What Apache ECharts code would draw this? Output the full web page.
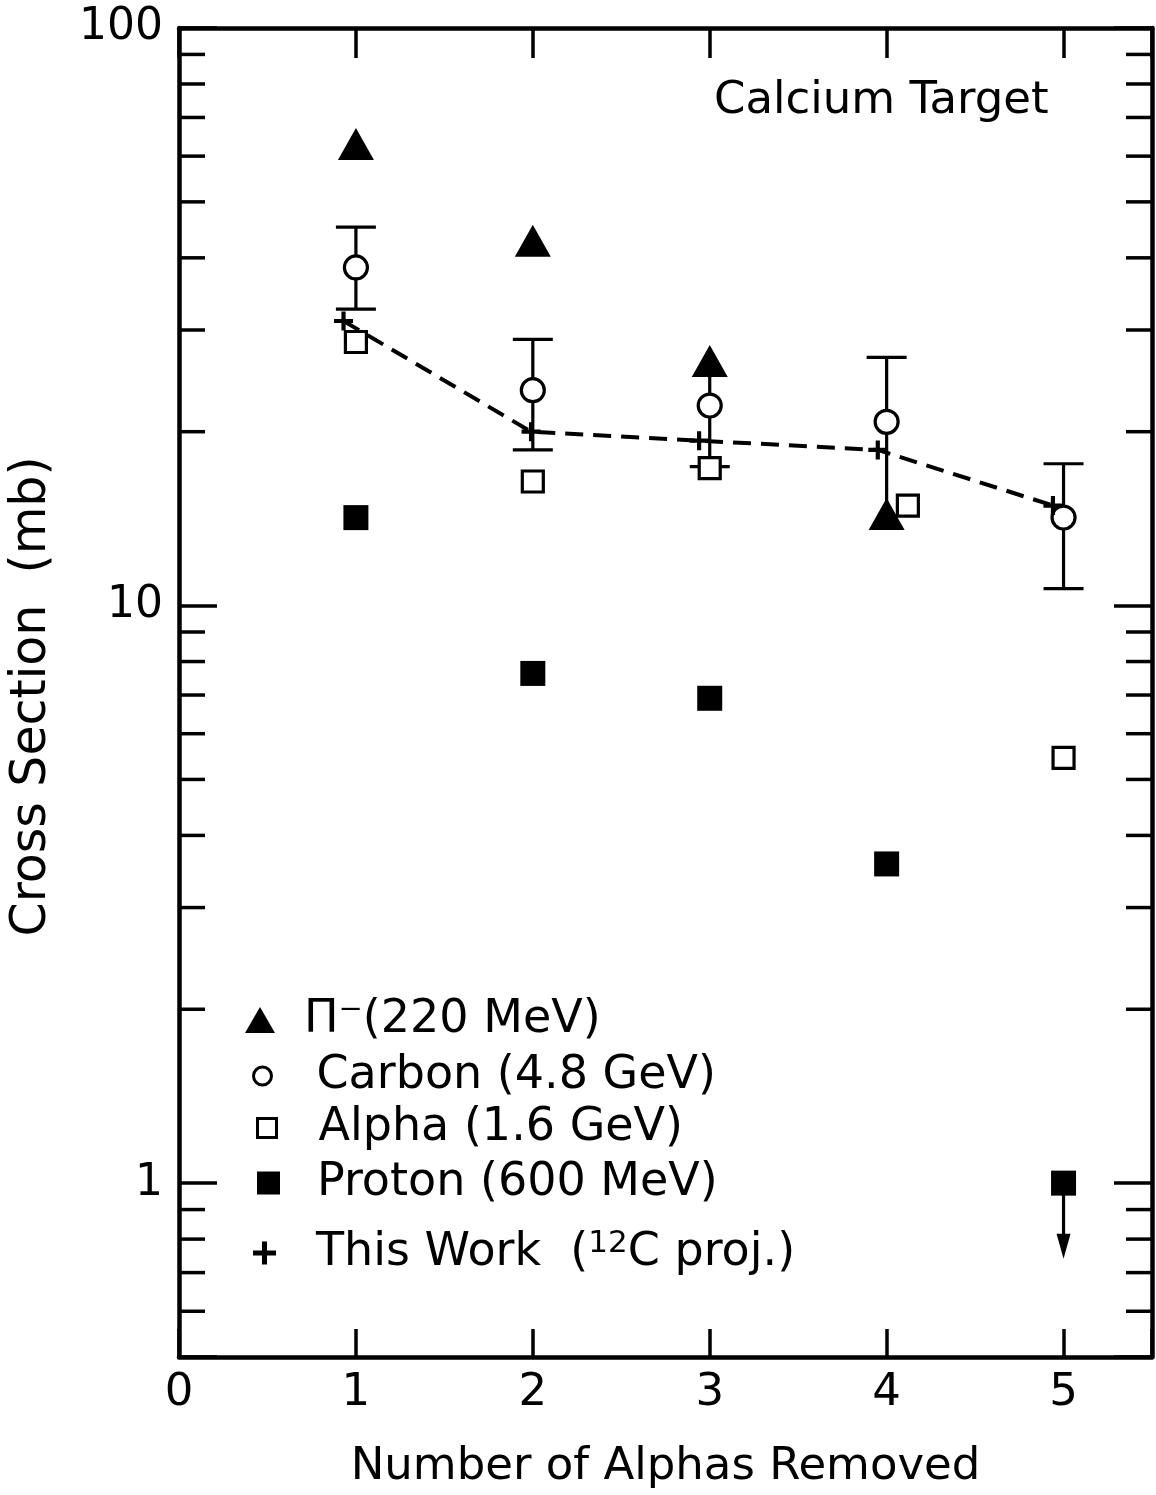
<!DOCTYPE html>
<html>
<head>
<meta charset="utf-8">
<script src="https://cdn.jsdelivr.net/npm/echarts@6/dist/echarts.min.js"></script>
<style>
html,body{margin:0;padding:0;background:#fff;}
#chart{width:1156px;height:1495px;}
</style>
</head>
<body>
<div id="chart"></div>
<script>
// ---- data ----
const xTickLabels = ['0', '1', '2', '3', '4', '5'];
const yTickLabels = ['1', '10', '100'];
const yMinorTicks = [0.6, 0.7, 0.8, 0.9, 2, 3, 4, 5, 6, 7, 8, 9, 20, 30, 40, 50, 60, 70, 80, 90];

const pionName = 'Π⁻(220 MeV)';
const pionX = [1, 2, 3, 4];
const pionY = [63, 42.8, 26.5, 14.4];

const carbonName = 'Carbon (4.8 GeV)';
const carbonX = [1, 2, 3, 4, 5];
const carbonY = [38.5, 23.6, 22.2, 20.8, 14.2];
const carbonLow = [32.6, 18.6, 17.4, 14.5, 10.7];
const carbonHigh = [45.2, 28.9, 27.5, 26.9, 17.6];
const carbonLowCap = [1, 1, 1, 0, 1];
const carbonHighCap = [1, 1, 0, 1, 1];

const alphaName = 'Alpha (1.6 GeV)';
const alphaX = [1, 2, 3, 4.12, 5];
const alphaY = [28.6, 16.4, 17.3, 14.9, 5.45];

const protonName = 'Proton (600 MeV)';
const protonX = [1, 2, 3, 4, 5];
const protonY = [14.2, 7.63, 6.91, 3.57, 1.0];
const protonLimitX = [5];
const protonLimitFrom = [1.0];
const protonLimitTo = [0.74];

const thisWorkName = 'This Work  (¹²C proj.)';
const thisWorkX = [0.93, 1.99, 2.94, 3.95, 4.94];
const thisWorkY = [31.1, 20.0, 19.3, 18.6, 14.9];

// ---- chart ----
const FONT = 'DejaVu Sans';
const BLACK = '#000';
const PLUS = 'path://M-2.2,-10 L2.2,-10 L2.2,-2.2 L10,-2.2 L10,2.2 L2.2,2.2 L2.2,10 L-2.2,10 L-2.2,2.2 L-10,2.2 L-10,-2.2 L-2.2,-2.2 Z';

const zip = (xs, ys) => xs.map((x, i) => [x, ys[i]]);

function legendRow(name, icon, w, h, left, cy, itemStyle, gap) {
  return {
    data: [{ name: name, icon: icon, itemStyle: itemStyle }],
    orient: 'vertical',
    left: left,
    top: cy - 25,
    padding: 0,
    itemWidth: w,
    itemHeight: h,
    selectedMode: false,
    formatter: function (n) {
      return '{g| }' + n.replace('¹²', '{s|12}');
    },
    textStyle: {
      fontFamily: FONT, fontSize: 46, color: BLACK, lineHeight: 50,
      rich: {
        g: { width: gap, fontSize: 46, lineHeight: 50 },
        s: { fontSize: 31, lineHeight: 20, verticalAlign: 'top', fontFamily: FONT, color: BLACK }
      }
    }
  };
}

const chart = echarts.init(document.getElementById('chart'), null, { renderer: 'canvas' });

const option = {
  animation: false,
  backgroundColor: '#fff',
  title: {
    text: 'Calcium Target',
    left: 709,
    top: 74,
    textStyle: { fontFamily: FONT, fontSize: 45, fontWeight: 'normal', color: BLACK }
  },
  grid: { left: 178, right: 4, top: 28, bottom: 129, containLabel: false },
  legend: [
    legendRow(pionName, 'triangle', 30, 26, 245, 1020, { color: BLACK, borderWidth: 0 }, 24),
    legendRow(carbonName, 'circle', 18, 18, 252, 1076, { color: '#fff', borderColor: BLACK, borderWidth: 3 }, 40),
    legendRow(alphaName, 'rect', 19, 19, 256, 1128, { color: '#fff', borderColor: BLACK, borderWidth: 3 }, 37),
    legendRow(protonName, 'rect', 23, 23, 257, 1183, { color: BLACK, borderWidth: 0 }, 32),
    legendRow(thisWorkName, PLUS, 23, 23, 253, 1253, { color: BLACK, borderWidth: 0 }, 35)
  ],
  xAxis: [
    {
      type: 'value', min: 0, max: 5.5, interval: 1, position: 'bottom',
      axisLine: { show: true, onZero: false, lineStyle: { color: BLACK, width: 4.5 } },
      axisTick: { show: true, inside: true, length: 28, lineStyle: { color: BLACK, width: 3.5 } },
      axisLabel: {
        fontFamily: FONT, fontSize: 45, color: BLACK, margin: 14,
        formatter: function (v) { const s = String(v); return xTickLabels.indexOf(s) >= 0 ? s : ''; }
      },
      splitLine: { show: false },
      name: 'Number of Alphas Removed',
      nameLocation: 'middle',
      nameGap: 88,
      nameTextStyle: { fontFamily: FONT, fontSize: 45, color: BLACK }
    },
    {
      type: 'value', min: 0, max: 5.5, interval: 1, position: 'top',
      axisLine: { show: true, onZero: false, lineStyle: { color: BLACK, width: 4.5 } },
      axisTick: { show: true, inside: true, length: 30, lineStyle: { color: BLACK, width: 3.5 } },
      axisLabel: { show: false },
      splitLine: { show: false }
    }
  ],
  yAxis: [
    {
      type: 'log', logBase: 10, min: 0.5, max: 100, position: 'left',
      axisLine: { show: true, onZero: false, lineStyle: { color: BLACK, width: 4.5 } },
      axisTick: { show: true, inside: true, length: 38, lineStyle: { color: BLACK, width: 3.5 } },
      axisLabel: {
        fontFamily: FONT, fontSize: 44, color: BLACK, margin: 16,
        formatter: function (v) { const s = String(v); return yTickLabels.indexOf(s) >= 0 ? s : ''; }
      },
      splitLine: { show: false },
      minorTick: { show: false },
      name: 'Cross Section  (mb)',
      nameLocation: 'middle',
      nameGap: 122,
      nameRotate: 90,
      nameTextStyle: { fontFamily: FONT, fontSize: 49, color: BLACK, padding: [0, 8, 0, 0] }
    },
    {
      type: 'log', logBase: 10, min: 0.5, max: 100, position: 'right',
      axisLine: { show: true, onZero: false, lineStyle: { color: BLACK, width: 4.5 } },
      axisTick: { show: true, inside: true, length: 38, lineStyle: { color: BLACK, width: 3.5 } },
      axisLabel: { show: false },
      splitLine: { show: false }
    }
  ],
  series: [
    {
      name: 'minor ticks',
      type: 'custom',
      silent: true,
      xAxisIndex: 0, yAxisIndex: 0,
      data: yMinorTicks.map(v => [0, v]),
      encode: { x: 0, y: 1 },
      z: 1,
      renderItem: function (params, api) {
        const y = api.coord([0, api.value(1)])[1];
        const cs = params.coordSys;
        const st = { stroke: BLACK, lineWidth: 3.5 };
        return {
          type: 'group',
          children: [
            { type: 'line', shape: { x1: cs.x, y1: y, x2: cs.x + 26, y2: y }, style: st },
            { type: 'line', shape: { x1: cs.x + cs.width - 26, y1: y, x2: cs.x + cs.width, y2: y }, style: st }
          ]
        };
      }
    },
    {
      name: 'carbon errors',
      type: 'custom',
      silent: true,
      data: carbonX.map((x, i) => [x, carbonLow[i], carbonHigh[i], carbonLowCap[i], carbonHighCap[i]]),
      encode: { x: 0, y: [1, 2] },
      z: 2,
      renderItem: function (params, api) {
        const x = api.value(0);
        const lo = api.coord([x, api.value(1)]);
        const hi = api.coord([x, api.value(2)]);
        const st = { stroke: BLACK, lineWidth: 3.2 };
        const half = 20;
        const children = [
          { type: 'line', shape: { x1: lo[0], y1: lo[1], x2: hi[0], y2: hi[1] }, style: st }
        ];
        if (api.value(3)) children.push({ type: 'line', shape: { x1: lo[0] - half, y1: lo[1], x2: lo[0] + half, y2: lo[1] }, style: st });
        if (api.value(4)) children.push({ type: 'line', shape: { x1: hi[0] - half, y1: hi[1], x2: hi[0] + half, y2: hi[1] }, style: st });
        return { type: 'group', children: children };
      }
    },
    {
      name: 'proton limit',
      type: 'custom',
      silent: true,
      data: protonLimitX.map((x, i) => [x, protonLimitFrom[i], protonLimitTo[i]]),
      encode: { x: 0, y: [1, 2] },
      z: 2,
      renderItem: function (params, api) {
        const x = api.value(0);
        const a = api.coord([x, api.value(1)]);
        const b = api.coord([x, api.value(2)]);
        return {
          type: 'group',
          children: [
            { type: 'line', shape: { x1: a[0], y1: a[1], x2: b[0], y2: b[1] - 18 }, style: { stroke: BLACK, lineWidth: 3.2 } },
            { type: 'polygon', shape: { points: [[b[0] - 7, b[1] - 25], [b[0] + 7, b[1] - 25], [b[0], b[1]]] }, style: { fill: BLACK } }
          ]
        };
      }
    },
    {
      name: 'this work line',
      type: 'line',
      data: zip(thisWorkX, thisWorkY),
      symbol: 'none',
      silent: true,
      z: 2,
      lineStyle: { color: BLACK, width: 4, type: [18, 10] }
    },
    {
      name: carbonName,
      type: 'scatter',
      data: zip(carbonX, carbonY),
      symbol: 'circle',
      symbolSize: 23,
      z: 4,
      itemStyle: { color: '#fff', borderColor: BLACK, borderWidth: 3.2, opacity: 1 }
    },
    {
      name: alphaName,
      type: 'scatter',
      data: zip(alphaX, alphaY),
      symbol: 'rect',
      symbolSize: 21,
      z: 4,
      itemStyle: { color: '#fff', borderColor: BLACK, borderWidth: 3.2, opacity: 1 }
    },
    {
      name: protonName,
      type: 'scatter',
      data: zip(protonX, protonY),
      symbol: 'rect',
      symbolSize: 25,
      z: 4,
      itemStyle: { color: BLACK, opacity: 1 }
    },
    {
      name: thisWorkName,
      type: 'scatter',
      data: zip(thisWorkX, thisWorkY),
      symbol: PLUS,
      symbolSize: 19,
      z: 5,
      itemStyle: { color: BLACK, opacity: 1 }
    },
    {
      name: pionName,
      type: 'scatter',
      data: zip(pionX, pionY),
      symbol: 'triangle',
      symbolSize: [36, 32],
      z: 6,
      itemStyle: { color: BLACK, opacity: 1 }
    }
  ]
};

chart.setOption(option);
</script>
</body>
</html>
